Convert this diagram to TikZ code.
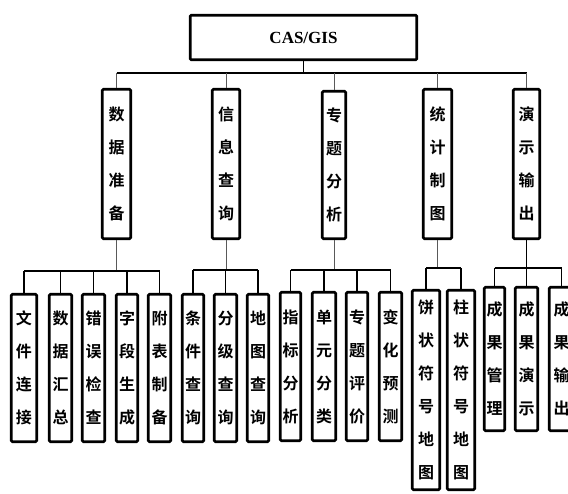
\documentclass[tikz,border=0pt]{standalone}
\usepackage{fontspec}
\setmainfont{Liberation Serif}
\newfontfamily\cjk{Noto Sans CJK SC}[BoldFont={* Bold}]
\begin{document}
\begin{tikzpicture}[x=1pt,y=-1pt,
  box/.style={draw,line width=2.6pt,rounded corners=1.2pt,inner sep=0pt,align=center,
    font=\cjk\bfseries\fontsize{16}{33}\selectfont},
  topbox/.style={draw,line width=2.6pt,rounded corners=1pt,inner sep=0pt,
    minimum width=226.5pt,minimum height=44.5pt,font=\bfseries\fontsize{17}{19}\selectfont},
  bus/.style={line width=1.5pt},
  stem/.style={line width=1pt,black!65},
]
\useasboundingbox (0,0) rectangle (568,494);
\clip (0,0) rectangle (568,494);
\fill[white] (0,0) rectangle (568,494);

\node[topbox] (top) at (303.5,37.5) {CAS/GIS};

% level 2
\node[box,minimum width=28.5pt,minimum height=149.5pt] (a) at (116.5,164) {数\\据\\准\\备};
\node[box,minimum width=27.5pt,minimum height=149.5pt] (b) at (226,164) {信\\息\\查\\询};
\node[box,minimum width=23.5pt,minimum height=147.5pt] (c) at (334,165) {专\\题\\分\\析};
\node[box,minimum width=28.5pt,minimum height=149.5pt] (d) at (437.5,164) {统\\计\\制\\图};
\node[box,minimum width=26.5pt,minimum height=149.5pt] (e) at (526.5,164) {演\\示\\输\\出};

% level 3, group 1
\node[box,minimum width=25.5pt,minimum height=147.5pt] (a1) at (24,368) {文\\件\\连\\接};
\node[box,minimum width=22.5pt,minimum height=147.5pt] (a2) at (60.5,368) {数\\据\\汇\\总};
\node[box,minimum width=22.5pt,minimum height=147.5pt] (a3) at (93.5,368) {错\\误\\检\\查};
\node[box,minimum width=21.5pt,minimum height=147.5pt] (a4) at (127,368) {字\\段\\生\\成};
\node[box,minimum width=22.5pt,minimum height=147.5pt] (a5) at (159.5,368) {附\\表\\制\\备};
% group 2
\node[box,minimum width=21.5pt,minimum height=147.5pt] (b1) at (193,368) {条\\件\\查\\询};
\node[box,minimum width=22.5pt,minimum height=147.5pt] (b2) at (225.5,368) {分\\级\\查\\询};
\node[box,minimum width=21.5pt,minimum height=147.5pt] (b3) at (258,368) {地\\图\\查\\询};
% group 3
\node[box,minimum width=20.5pt,minimum height=148.5pt] (c1) at (290.5,366.5) {指\\标\\分\\析};
\node[box,minimum width=23.5pt,minimum height=148.5pt] (c2) at (324,366.5) {单\\元\\分\\类};
\node[box,minimum width=21.5pt,minimum height=148.5pt] (c3) at (357,366.5) {专\\题\\评\\价};
\node[box,minimum width=22.5pt,minimum height=148.5pt] (c4) at (390.5,366.5) {变\\化\\预\\测};
% group 4
\node[box,minimum width=27.5pt,minimum height=199.5pt] (d1) at (426,390) {饼\\状\\符\\号\\地\\图};
\node[box,minimum width=27.5pt,minimum height=199.5pt] (d2) at (461,390) {柱\\状\\符\\号\\地\\图};
% group 5
\node[box,minimum width=20.5pt,minimum height=143.5pt] (e1) at (494.5,359) {成\\果\\管\\理};
\node[box,minimum width=22.5pt,minimum height=143.5pt] (e2) at (526.5,359) {成\\果\\演\\示};
\node[box,minimum width=24.5pt,minimum height=143.5pt] (e3) at (561.5,359) {成\\果\\输\\出};

% connectors: top level
\coordinate (t0) at (0,73);
\draw[bus] (top.south) -- (top.south |- t0);
\draw[bus] (a.north |- t0) -- (e.north |- t0);
\foreach \n in {a,b,c,d,e} \draw[stem] (\n.north) -- (\n.north |- t0);

% group buses
\coordinate (g1) at (0,271);
\coordinate (g2) at (0,270);
\coordinate (g3) at (0,270);
\coordinate (g4) at (0,268);
\coordinate (g5) at (0,268);

\draw[stem] (a.south) -- (a.south |- g1);
\draw[bus] (a1.north |- g1) -- (a5.north |- g1);
\foreach \n in {a1,a2,a3,a4,a5} \draw[bus] (\n.north) -- (\n.north |- g1);

\draw[stem] (b.south) -- (b.south |- g2);
\draw[bus] (b1.north |- g2) -- (b3.north |- g2);
\foreach \n in {b1,b2,b3} \draw[bus] (\n.north) -- (\n.north |- g2);

\draw[stem] (c.south) -- (c.south |- g3);
\draw[bus] (c1.north |- g3) -- (c4.north |- g3);
\foreach \n in {c1,c2,c3,c4} \draw[bus] (\n.north) -- (\n.north |- g3);

\draw[stem] (d.south) -- (d.south |- g4);
\draw[bus] (d1.north |- g4) -- (d2.north |- g4);
\foreach \n in {d1,d2} \draw[bus] (\n.north) -- (\n.north |- g4);

\draw[bus] (e.south) -- (e.south |- g5);
\draw[bus] (e1.north |- g5) -- (e3.north |- g5);
\foreach \n in {e1,e2,e3} \draw[bus] (\n.north) -- (\n.north |- g5);
\end{tikzpicture}
\end{document}
